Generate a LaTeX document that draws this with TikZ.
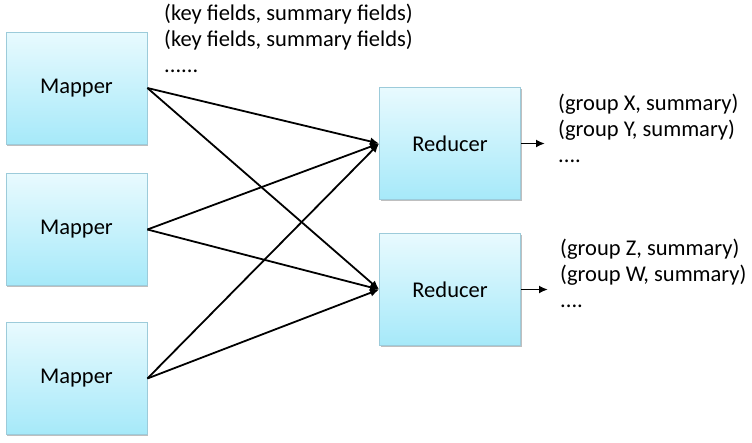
\documentclass[tikz,border=0pt]{standalone}
\usepackage{fontspec}
\setmainfont{Carlito}
\usetikzlibrary{arrows.meta,shadows}
\begin{document}
\begin{tikzpicture}[x=1pt,y=-1pt,
  box/.style={draw=boxline,line width=0.8pt,top color=boxtop,bottom color=boxbot,
    minimum width=141pt,minimum height=112pt,font=\fontsize{22.5}{26}\selectfont,
    drop shadow={shadow xshift=1pt,shadow yshift=-1.5pt,fill=black,opacity=0.25}},
  conn/.style={line width=1.8pt,-{Latex[length=9pt,width=8pt]}},
  lbl/.style={anchor=north west,align=left,inner sep=0pt,font=\fontsize{22.5}{26}\selectfont}]
\definecolor{boxtop}{HTML}{E8FAFE}
\definecolor{boxbot}{HTML}{A6E9F9}
\definecolor{boxline}{HTML}{9CCBDA}
\useasboundingbox (0,0) rectangle (752,442);
\node[box] (m1) at (76.5,88) {Mapper};
\node[box] (m2) at (76.5,229.5) {Mapper};
\node[box] (m3) at (76.5,378.5) {Mapper};
\node[box] (r1) at (450,143.5) {Reducer};
\node[box] (r2) at (450,289.5) {Reducer};
\draw[conn] (m1.east) -- (r1.west);
\draw[conn] (m1.east) -- (r2.west);
\draw[conn] (m2.east) -- (r1.west);
\draw[conn] (m2.east) -- (r2.west);
\draw[conn] (m3.east) -- (r1.west);
\draw[conn] (m3.east) -- (r2.west);
\coordinate (o1) at (545,143.5);
\coordinate (o2) at (548,289.5);
\draw[conn] (r1.east) -- (o1);
\draw[conn] (r2.east) -- (o2);
\node[lbl] (t0) at (164,4) {(key fields, summary fields)\\(key fields, summary fields)\\......};
\node[lbl] (t1) at (558,94) {(group X, summary)\\(group Y, summary)\\....};
\node[lbl] (t2) at (560,239) {(group Z, summary)\\(group W, summary)\\....};
\end{tikzpicture}
\end{document}
